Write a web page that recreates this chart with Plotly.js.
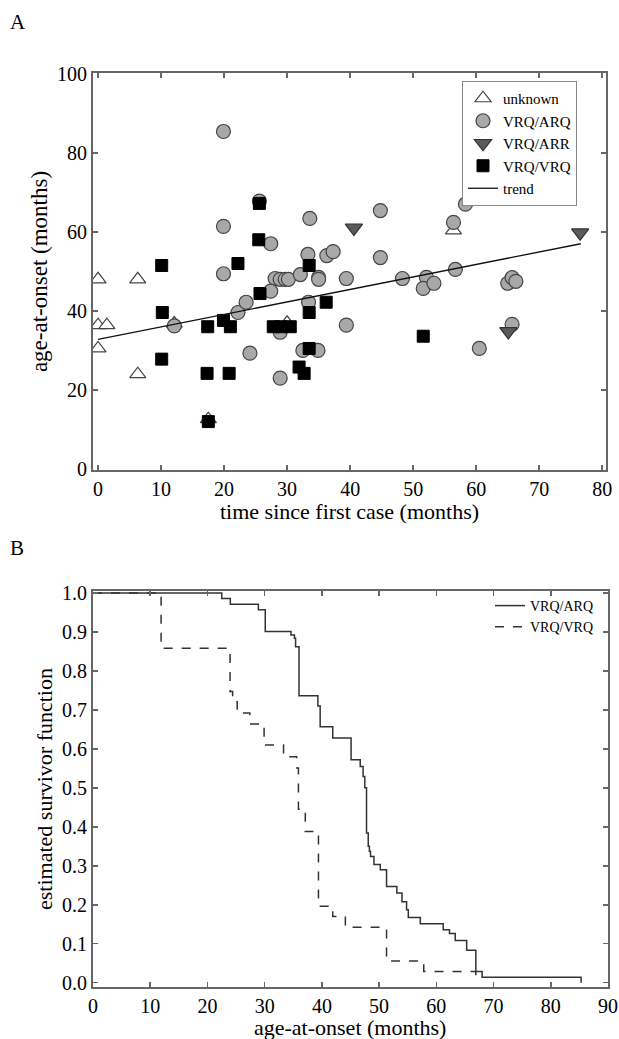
<!DOCTYPE html>
<html>
<head>
<meta charset="utf-8">
<script src="https://cdn.plot.ly/plotly-3.0.1.min.js"></script>
<style>html,body{margin:0;padding:0;background:#fff;}#chart{width:619px;height:1039px;}</style>
</head>
<body>
<div id="chart"></div>
<script>
// ---- Panel A data ----
const unknownX = [0, 0, 1.4, 0, 6.3, 6.3, 12.1, 17.5, 30.0, 56.4];
const unknownY = [48, 36.4, 36.4, 30.5, 48, 24, 36.8, 12.6, 37, 60.4];

const arqX = [19.9, 19.9, 19.9, 25.6, 33.6, 44.8, 27.4, 33.3, 36.3, 37.3, 44.8, 58.3, 56.4, 56.7,
              28.1, 28.9, 29.7, 30.2, 32.1, 35.0, 35.0, 39.4, 48.3, 52.1, 51.6, 53.3, 27.4, 33.4,
              22.2, 23.5, 12.1, 28.9, 39.4, 32.5, 34.9, 28.9, 24.1, 65.0, 65.7, 66.3, 65.7, 60.5];
const arqY = [85.4, 61.4, 49.4, 67.8, 63.4, 65.4, 57.0, 54.3, 54.0, 55.0, 53.5, 67.0, 62.4, 50.5,
              48.2, 48.0, 48.0, 48.0, 49.2, 48.5, 48.0, 48.2, 48.2, 48.5, 45.7, 47.0, 45.0, 42.2,
              39.6, 42.2, 36.2, 34.6, 36.4, 30.0, 30.0, 23.0, 29.3, 47.0, 48.4, 47.5, 36.6, 30.5];

const arrX = [40.6, 65.1, 76.5];
const arrY = [61.0, 34.8, 59.8];

const vvqX = [10.1, 22.2, 25.5, 25.6, 33.5, 25.7, 36.2, 10.2, 33.5, 17.4, 19.9, 21.0, 27.8, 29.0,
              30.5, 10.1, 17.3, 20.8, 17.5, 51.6, 33.5, 31.9, 32.7];
const vvqY = [51.5, 52.0, 58.0, 67.2, 51.5, 44.4, 42.2, 39.6, 39.6, 36.0, 37.6, 36.0, 36.0, 36.0,
              36.0, 27.8, 24.2, 24.2, 12.0, 33.6, 30.5, 25.8, 24.2];

const trendX = [0, 76.6];
const trendY = [32.8, 57.0];

// ---- Panel B data (Kaplan-Meier steps) ----
const kmArqT = [0, 22.5, 24, 28.9, 30.1, 34.6, 35.2, 35.4, 36, 39.3, 39.7, 41.9, 45.1, 46.7, 47.2, 47.5,
                47.8, 48.1, 48.3, 48.5, 49.1, 50.2, 51.3, 53.1, 54.0, 54.8, 55.1, 57.2, 61.2, 62.3,
                63.3, 65.3, 66.9, 68, 85.3];
const kmArqS = [1, 0.986, 0.971, 0.957, 0.901, 0.892, 0.884, 0.862, 0.736, 0.71, 0.657, 0.628, 0.572, 0.555, 0.529, 0.5,
                0.384, 0.35, 0.337, 0.324, 0.303, 0.29, 0.247, 0.23, 0.208, 0.187, 0.167, 0.151, 0.136, 0.126,
                0.108, 0.083, 0.029, 0.014, 0];
const kmVvqT = [0, 11.9, 23.95, 24.4, 25.2, 27.4, 29.9, 33.3, 35.6, 35.9, 37.1, 39.4, 41.9, 44.1, 51.3, 57.8, 66.9];
const kmVvqS = [1, 0.858, 0.747, 0.721, 0.692, 0.664, 0.61, 0.58, 0.551, 0.445, 0.388, 0.196, 0.17, 0.142, 0.056, 0.029, 0];

const xTicksA = [0, 10, 20, 30, 40, 50, 60, 70, 80];
const yTicksA = [0, 20, 40, 60, 80, 100];
const xTicksB = [0, 10, 20, 30, 40, 50, 60, 70, 80, 90];
const yTicksB = [0, 0.1, 0.2, 0.3, 0.4, 0.5, 0.6, 0.7, 0.8, 0.9, 1.0];

const FONT = "Liberation Serif, Times New Roman, serif";
const W = 619, H = 1039;
const px = v => v / W;
const py = v => 1 - v / H;

const traces = [
  {x: unknownX, y: unknownY, name: 'unknown', type: 'scatter', mode: 'markers', xaxis: 'x', yaxis: 'y',
   marker: {symbol: 'triangle-up', size: 14, color: '#ffffff', line: {color: '#444', width: 1.2}}},
  {x: arqX, y: arqY, name: 'VRQ/ARQ', type: 'scatter', mode: 'markers', xaxis: 'x', yaxis: 'y',
   marker: {symbol: 'circle', size: 14, color: '#a8a8a8', line: {color: '#444', width: 1.2}}},
  {x: arrX, y: arrY, name: 'VRQ/ARR', type: 'scatter', mode: 'markers', xaxis: 'x', yaxis: 'y',
   marker: {symbol: 'triangle-down', size: 15, color: '#5a5a5a', line: {color: '#333', width: 1.2}}},
  {x: vvqX, y: vvqY, name: 'VRQ/VRQ', type: 'scatter', mode: 'markers', xaxis: 'x', yaxis: 'y',
   marker: {symbol: 'square', size: 12, color: '#000000', line: {color: '#000', width: 1}}},
  {x: trendX, y: trendY, name: 'trend', type: 'scatter', mode: 'lines', xaxis: 'x', yaxis: 'y',
   line: {color: '#111', width: 1.3}},
  {x: kmArqT, y: kmArqS, name: 'VRQ/ARQ', type: 'scatter', mode: 'lines', xaxis: 'x2', yaxis: 'y2',
   legend: 'legend2', line: {shape: 'hv', color: '#333', width: 1.5}},
  {x: kmVvqT, y: kmVvqS, name: 'VRQ/VRQ', type: 'scatter', mode: 'lines', xaxis: 'x2', yaxis: 'y2',
   legend: 'legend2', line: {shape: 'hv', color: '#333', width: 1.5, dash: 'dash'}}
];

const axisCommon = {
  showline: true, mirror: 'ticks', linecolor: '#666', linewidth: 2,
  ticks: 'inside', ticklen: 5, tickwidth: 1.5, tickcolor: '#666',
  showgrid: false, zeroline: false,
  tickfont: {family: FONT, size: 20, color: '#000'}
};

const layout = {
  width: W, height: H,
  margin: {l: 0, r: 0, t: 0, b: 0},
  paper_bgcolor: '#fff', plot_bgcolor: '#fff',
  font: {family: FONT, color: '#000'},
  showlegend: true,
  xaxis: Object.assign({}, axisCommon, {
    domain: [px(93), px(606)], range: [-0.8, 80.6], tickvals: xTicksA, anchor: 'y'
  }),
  yaxis: Object.assign({}, axisCommon, {
    domain: [py(470), py(73)], range: [-0.25, 100.2], tickvals: yTicksA, anchor: 'x',
    title: {text: 'age-at-onset (months)', font: {family: FONT, size: 23}, standoff: 3}
  }),
  xaxis2: Object.assign({}, axisCommon, {
    domain: [px(93), px(608)], range: [0, 90], tickvals: xTicksB, anchor: 'y2'
  }),
  yaxis2: Object.assign({}, axisCommon, {
    domain: [py(987), py(591)], range: [-0.011, 1.005], tickvals: yTicksB, tickformat: '.1f', anchor: 'x2',
    title: {text: 'estimated survivor function', font: {family: FONT, size: 22}, standoff: 3}
  }),
  legend: {
    x: px(462), y: py(81), xanchor: 'left', yanchor: 'top',
    bgcolor: '#fff', bordercolor: '#888', borderwidth: 1,
    font: {family: FONT, size: 15, color: '#000'}, tracegroupgap: 0
  },
  legend2: {
    x: px(490), y: py(590), xanchor: 'left', yanchor: 'top',
    bgcolor: 'rgba(0,0,0,0)', borderwidth: 0,
    font: {family: FONT, size: 14, color: '#000'}, tracegroupgap: 0
  },
  annotations: [
    {text: 'A', x: px(8), y: py(22), xref: 'paper', yref: 'paper', xanchor: 'left', yanchor: 'middle',
     showarrow: false, font: {family: FONT, size: 21, color: '#000'}},
    {text: 'B', x: px(8), y: py(548), xref: 'paper', yref: 'paper', xanchor: 'left', yanchor: 'middle',
     showarrow: false, font: {family: FONT, size: 21, color: '#000'}},
    {text: 'time since first case (months)', x: px(349), y: py(511), xref: 'paper', yref: 'paper',
     xanchor: 'center', yanchor: 'middle', showarrow: false, font: {family: FONT, size: 22, color: '#000'}},
    {text: 'age-at-onset (months)', x: px(350), y: py(1027), xref: 'paper', yref: 'paper',
     xanchor: 'center', yanchor: 'middle', showarrow: false, font: {family: FONT, size: 22, color: '#000'}}
  ]
};

Plotly.newPlot('chart', traces, layout, {displayModeBar: false, staticPlot: true});
</script>
</body>
</html>
